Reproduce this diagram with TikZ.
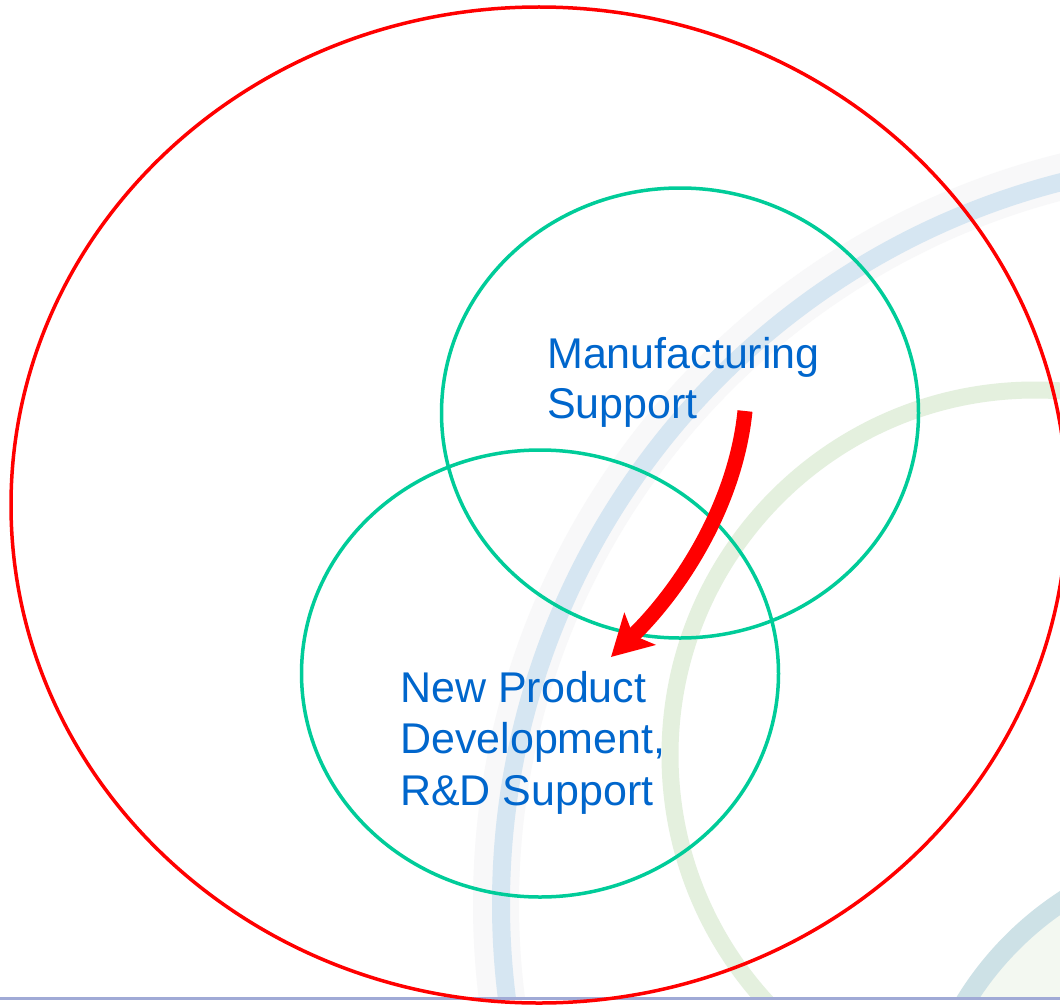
\documentclass[tikz,border=0pt]{standalone}
\usepackage{fontspec}
\setmainfont{Liberation Sans}
\usetikzlibrary{arrows.meta,shapes.geometric}
\definecolor{ringred}{RGB}{255,0,0}
\definecolor{ringteal}{RGB}{0,204,153}
\definecolor{txtblue}{RGB}{0,102,204}
\definecolor{bgblue}{RGB}{214,230,242}
\definecolor{bgshade}{RGB}{248,248,249}
\definecolor{bggreen}{RGB}{228,240,222}
\definecolor{bgteal}{RGB}{205,225,230}
\definecolor{bgfill}{RGB}{243,248,241}
\definecolor{footline}{RGB}{160,170,214}
\tikzset{
  redring/.style={draw=ringred, line width=3.5pt},
  tealring/.style={draw=ringteal, line width=3.5pt},
  lbl/.style={text=txtblue, inner sep=0pt, anchor=base west, font=\fontsize{43}{50}\selectfont},
  bendarrow/.style={draw=ringred, line width=15pt, -{Stealth[length=40pt,width=44pt,inset=9pt]}},
}
\begin{document}
\begin{tikzpicture}[x=1pt,y=-1pt]
\useasboundingbox (0,0) rectangle (1060,1006);
\fill[white] (0,0) rectangle (1060,1006);
\begin{scope}
  \clip (0,0) rectangle (1060,996);
  \draw[bgshade, line width=46pt] (1246,904) circle (750);
  \draw[bgblue, line width=18pt] (1246,904) circle (745);
  \draw[bggreen, line width=17pt] (1035,755) circle (365);
  \fill[bgfill] (1240,1170) circle (322);
  \draw[bgteal, line width=20pt] (1240,1170) circle (322);
\end{scope}
\draw[footline, line width=2.5pt] (0,998.5) -- (1060,998.5);
% rings
\node[redring, ellipse, minimum width=1056pt, minimum height=996pt, inner sep=0pt] (outer) at (539,505) {};
\node[tealring, ellipse, minimum width=477pt, minimum height=450pt, inner sep=0pt] (mfg) at (680,413) {};
\node[tealring, ellipse, minimum width=477pt, minimum height=447pt, inner sep=0pt] (npd) at (540,673.5) {};
% labels
\node[lbl] (m1) at (547,368) {Manufacturing};
\node[lbl] (m2) at (547,418) {Support};
\node[lbl] (n1) at (400,702) {New Product};
\node[lbl] (n2) at (400,753) {Development,};
\node[lbl] (n3) at (400,805) {R\&D Support};
% arrow
\coordinate (a0) at (745,411);
\coordinate (a1) at (611,657);
\draw[bendarrow] (a0) .. controls (736,500) and (685,585) .. (a1);
\end{tikzpicture}
\end{document}
